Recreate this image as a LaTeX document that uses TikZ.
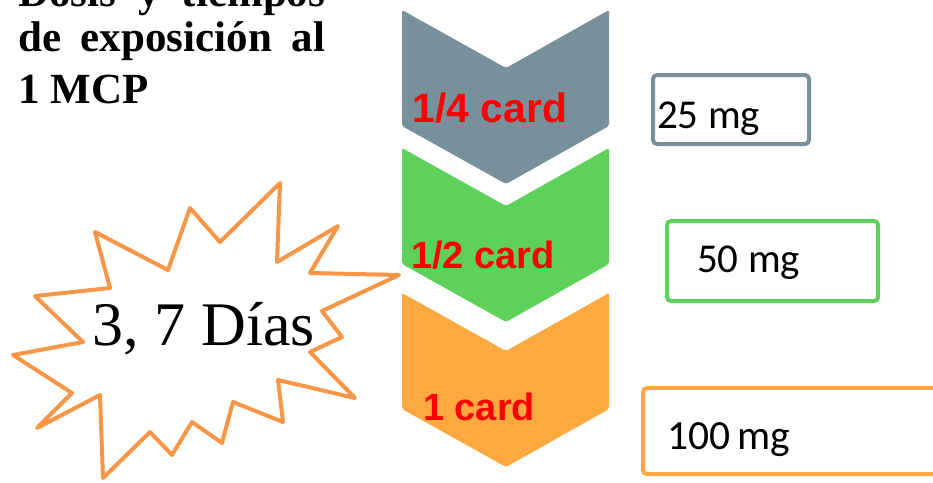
\documentclass[tikz,border=0pt]{standalone}
\usepackage{fontspec}
\setmainfont{Liberation Serif}
\newfontfamily\arialfont{Liberation Sans}
\newfontfamily\calibfont{Carlito}

\definecolor{slategray}{RGB}{120,144,155}
\definecolor{leafgreen}{RGB}{94,209,91}
\definecolor{amber}{RGB}{253,169,64}
\definecolor{burst}{RGB}{247,150,70}
\definecolor{cardred}{RGB}{255,0,0}

\tikzset{
  chev/.style={rounded corners=2pt},
  titleline/.style={inner sep=0pt, font=\bfseries\fontsize{43}{52}\selectfont},
  cardlbl/.style={inner sep=0pt, text=cardred, font=\arialfont\bfseries\fontsize{38}{44}\selectfont},
  doselbl/.style={inner sep=0pt, font=\calibfont\fontsize{41}{48}\selectfont},
  dosebox/.style={draw, line width=4pt, rounded corners=4pt, inner sep=0pt, anchor=north west},
}

\begin{document}
\begin{tikzpicture}[x=1pt,y=-1pt]
\useasboundingbox (0,0) rectangle (933,482);
\clip (0,0) rectangle (933,482);

% heading, justified block in bold serif
\node[titleline, anchor=base west] (t1) at (18,6) {\makebox[307pt][s]{Dosis y tiempos}};
\node[titleline, anchor=base west] (t2) at (18,51) {\makebox[307pt][s]{de exposición al}};
\node[titleline, anchor=base west] (t3) at (18,103) {1 MCP};

% three stacked chevrons
\fill[chev, slategray] (402,10) -- (506,68) -- (609,10) -- (609,126) -- (506,184) -- (402,126) -- cycle;
\fill[chev, leafgreen] (402,148) -- (506,206) -- (609,148) -- (609,264) -- (506,322) -- (402,264) -- cycle;
\fill[chev, amber] (402,293) -- (506,351) -- (609,293) -- (609,409) -- (506,467) -- (402,409) -- cycle;

\node[cardlbl, anchor=base west, font=\arialfont\bfseries\fontsize{41}{48}\selectfont] (c1) at (412,122) {1/4 card};
\node[cardlbl, anchor=base west] (c2) at (411,268) {1/2 card};
\node[cardlbl, anchor=base west] (c3) at (423,420) {1 card};

% dose boxes
\node[dosebox, draw=slategray, minimum width=156pt, minimum height=69pt] (b1) at (651,73) {};
\node[dosebox, draw=leafgreen, minimum width=211pt, minimum height=80pt] (b2) at (665,219) {};
\node[dosebox, draw=amber, minimum width=310pt, minimum height=86pt] (b3) at (641,386) {};

\node[doselbl, anchor=base west] (d1) at (657,128) {25 mg};
\node[doselbl, anchor=base west] (d2) at (697,272) {50 mg};
\node[doselbl, anchor=base west, font=\calibfont\fontsize{41.5}{48}\selectfont] (d3) at (667,449) {100\,mg};

% starburst
\draw[burst, line width=4pt, line join=round, fill=white]
  (280,183) -- (277,262) -- (338,226) -- (310,273) -- (399,275) -- (322,311)
  -- (342,337) -- (310,352) -- (355,398) -- (278,380) -- (283,422) -- (233,402)
  -- (222,443) -- (192,422) -- (172,455) -- (150,432) -- (103,478) -- (100,395)
  -- (37,428) -- (72,393) -- (13,355) -- (83,342) -- (35,296) -- (110,288)
  -- (95,232) -- (168,270) -- (190,208) -- (220,242) -- cycle;
\node[inner sep=0pt, anchor=base, font=\fontsize{62}{70}\selectfont] (days) at (204,345) {3, 7 Días};
\end{tikzpicture}
\end{document}
